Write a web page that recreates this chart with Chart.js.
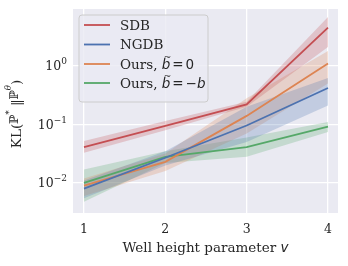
<!DOCTYPE html>
<html>
<head>
<meta charset="utf-8">
<script src="https://cdn.jsdelivr.net/npm/chart.js@4"></script>
<style>
  html, body { margin: 0; padding: 0; background: #fff; }
  #wrap { width: 348px; height: 266px; }
</style>
</head>
<body>
<div id="wrap"><canvas id="klChart" width="348" height="266"></canvas></div>
<script>
const wellHeights = [1, 2, 3, 4];
const xTickLabels = ["1", "2", "3", "4"];
const yTickValues = [0.01, 0.1, 1];
const yTickExponents = ["\u22122", "\u22121", "0"];

const sdbMean = [0.041, 0.095, 0.22, 4.5];
const sdbLow = [0.033, 0.08, 0.2, 2.1];
const sdbHigh = [0.052, 0.115, 0.245, 6.8];

const ngdbMean = [0.008, 0.027, 0.096, 0.42];
const ngdbLow = [0.0055, 0.02, 0.05, 0.21];
const ngdbHigh = [0.011, 0.035, 0.2, 0.62];

const oursZeroMean = [0.009, 0.023, 0.14, 1.1];
const oursZeroLow = [0.006, 0.016, 0.07, 0.5];
const oursZeroHigh = [0.012, 0.032, 0.28, 1.8];

const oursNegMean = [0.0101, 0.028, 0.041, 0.092];
const oursNegLow = [0.0048, 0.022, 0.028, 0.074];
const oursNegHigh = [0.017, 0.035, 0.06, 0.11];

const series = [
  { name: "SDB", color: "#C44E52", band: "rgba(196,78,82,0.25)", mean: sdbMean, low: sdbLow, high: sdbHigh },
  { name: "NGDB", color: "#4C72B0", band: "rgba(76,114,176,0.25)", mean: ngdbMean, low: ngdbLow, high: ngdbHigh },
  { name: "Ours0", color: "#DD8452", band: "rgba(221,132,82,0.25)", mean: oursZeroMean, low: oursZeroLow, high: oursZeroHigh },
  { name: "OursNeg", color: "#55A868", band: "rgba(85,168,104,0.25)", mean: oursNegMean, low: oursNegLow, high: oursNegHigh },
];

const toPoints = (arr) => arr.map((v, i) => ({ x: wellHeights[i], y: v }));

const datasets = [];
// bands first so the lines sit on top
series.forEach((s) => {
  datasets.push({ data: toPoints(s.low), borderWidth: 0, pointRadius: 0, fill: false, order: 10 });
  datasets.push({ data: toPoints(s.high), borderWidth: 0, pointRadius: 0, backgroundColor: s.band, fill: "-1", order: 10 });
});
series.forEach((s) => {
  datasets.push({ data: toPoints(s.mean), borderColor: s.color, borderWidth: 1.8, pointRadius: 0, fill: false, order: 1 });
});

const SERIF = "'DejaVu Serif', serif";
const SANS_IT = "italic 13.5px 'DejaVu Sans', sans-serif";
const TEXT = "#262626";

const decorations = {
  id: "decorations",
  beforeDraw(chart) {
    const { ctx, chartArea: a } = chart;
    ctx.save();
    ctx.fillStyle = "#EAEAF2";
    ctx.fillRect(a.left, a.top, a.right - a.left, a.bottom - a.top);
    ctx.restore();
  },
  afterDraw(chart) {
    const { ctx, chartArea: a, scales } = chart;
    ctx.save();
    ctx.fillStyle = TEXT;

    // x tick labels
    ctx.font = "12.5px " + SERIF;
    ctx.textAlign = "center";
    ctx.textBaseline = "middle";
    wellHeights.forEach((v, i) => {
      ctx.fillText(xTickLabels[i], scales.x.getPixelForValue(v), 230);
    });

    // x axis title
    ctx.textAlign = "left";
    const t1 = "Well height parameter ";
    ctx.font = SANS_IT;
    const wv = ctx.measureText("v").width;
    ctx.font = "13.5px " + SERIF;
    const w1 = ctx.measureText(t1).width;
    let x0 = (a.left + a.right) / 2 - (w1 + wv) / 2;
    ctx.fillText(t1, x0, 248);
    ctx.font = SANS_IT;
    ctx.fillText("v", x0 + w1, 248);

    // y tick labels 10^k
    yTickValues.forEach((v, i) => {
      const y = scales.y.getPixelForValue(v);
      ctx.font = "9px " + SERIF;
      const we = ctx.measureText(yTickExponents[i]).width;
      ctx.font = "12.5px " + SERIF;
      const wb = ctx.measureText("10").width;
      const right = a.left - 6;
      ctx.textAlign = "left";
      ctx.textBaseline = "middle";
      ctx.fillText("10", right - we - wb, y + 1);
      ctx.font = "9px " + SERIF;
      ctx.fillText(yTickExponents[i], right - we, y - 4);
    });

    // y axis title
    ctx.translate(17, (a.top + a.bottom) / 2 + 3);
    ctx.rotate(-Math.PI / 2);
    const parts = [
      { t: "KL(", f: "13.5px " + SERIF, dy: 0 },
      { t: "\u2119", f: "12px " + SERIF, dy: -2 },
      { t: "*", f: "9px " + SERIF, dy: -7 },
      { t: " \u2016", f: "13.5px " + SERIF, dy: 0 },
      { t: "\u2119", f: "12px " + SERIF, dy: -2 },
      { t: "\u03B8", f: "italic 8.5px " + SERIF, dy: -8 },
      { t: ")", f: "13.5px " + SERIF, dy: 0 },
    ];
    let total = 0;
    parts.forEach((p) => { ctx.font = p.f; p.w = ctx.measureText(p.t).width; total += p.w; });
    let px = -total / 2;
    ctx.textBaseline = "middle";
    parts.forEach((p) => { ctx.font = p.f; ctx.fillText(p.t, px, p.dy); px += p.w; });
    ctx.restore();

    // legend
    ctx.save();
    const lx = 79, ly = 15, lw = 129, lh = 87;
    ctx.beginPath();
    ctx.roundRect(lx, ly, lw, lh, 3);
    ctx.fillStyle = "rgba(234,234,242,0.8)";
    ctx.fill();
    ctx.strokeStyle = "#cccccc";
    ctx.lineWidth = 1;
    ctx.stroke();
    const rows = [25, 44.5, 64, 83];
    series.forEach((s, i) => {
      ctx.strokeStyle = s.color;
      ctx.lineWidth = 1.8;
      ctx.beginPath();
      ctx.moveTo(84, rows[i]);
      ctx.lineTo(110, rows[i]);
      ctx.stroke();
    });
    ctx.fillStyle = TEXT;
    ctx.textBaseline = "middle";
    ctx.textAlign = "left";
    ctx.font = "13.5px " + SERIF;
    ctx.fillText("SDB", 120, rows[0] + 1);
    ctx.fillText("NGDB", 120, rows[1] + 1);
    const drawOurs = (y, rhs) => {
      ctx.font = "13.5px " + SERIF;
      let x = 120;
      ctx.fillText("Ours, ", x, y + 1);
      x += ctx.measureText("Ours, ").width;
      ctx.font = SANS_IT;
      const wb = ctx.measureText("b").width;
      ctx.fillText("b", x, y + 1);
      ctx.font = "9px 'DejaVu Sans', sans-serif";
      ctx.fillText("~", x + 2, y - 6);
      x += wb + 2;
      ctx.font = "13.5px 'DejaVu Sans', sans-serif";
      ctx.fillText("=", x, y + 1);
      x += ctx.measureText("=").width + 2;
      if (rhs === "0") {
        ctx.fillText("0", x, y + 1);
      } else {
        ctx.fillText("\u2212", x, y + 1);
        x += ctx.measureText("\u2212").width;
        ctx.font = SANS_IT;
        ctx.fillText("b", x, y + 1);
      }
    };
    drawOurs(rows[2], "0");
    drawOurs(rows[3], "-b");
    ctx.restore();
  },
};

new Chart(document.getElementById("klChart"), {
  type: "line",
  data: { datasets },
  options: {
    responsive: false,
    animation: false,
    events: [],
    layout: { padding: { top: 9, right: 10, left: 0, bottom: 0 } },
    plugins: { legend: { display: false }, tooltip: { enabled: false } },
    scales: {
      x: {
        type: "linear",
        min: 0.865,
        max: 4.123,
        afterBuildTicks: (scale) => { scale.ticks = wellHeights.map((v) => ({ value: v })); },
        afterFit: (scale) => { scale.height = 53; },
        ticks: { display: false },
        grid: { color: "#ffffff", lineWidth: 1.3, drawTicks: false },
        border: { display: false },
      },
      y: {
        type: "logarithmic",
        min: 0.00308,
        max: 9.35,
        afterBuildTicks: (scale) => { scale.ticks = yTickValues.map((v) => ({ value: v })); },
        afterFit: (scale) => { scale.width = 73; },
        ticks: { display: false },
        grid: { color: "#ffffff", lineWidth: 1.3, drawTicks: false },
        border: { display: false },
      },
    },
  },
  plugins: [decorations],
});
</script>
</body>
</html>
